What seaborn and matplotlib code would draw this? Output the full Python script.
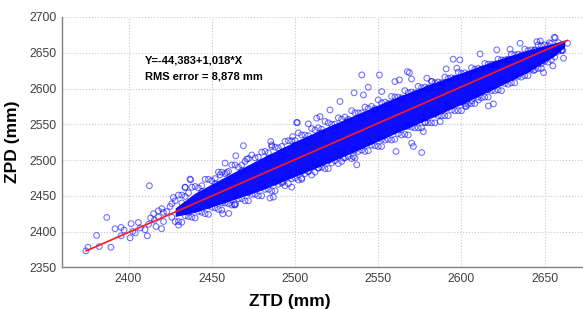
import matplotlib
matplotlib.use("Agg")
import matplotlib.pyplot as plt
import seaborn as sns
import numpy as np

# ---------------- data ----------------
# regression coefficients shown in the chart
intercept = -44.383
slope = 1.018
rms_error = 8.878

# envelope of the saturated (solid blue) core of the point cloud
core_ztd = [2428, 2440, 2460, 2480, 2500, 2520, 2540, 2560, 2580, 2600, 2620, 2640, 2655, 2662]
core_hi  = [2433, 2454, 2479, 2503, 2526, 2547, 2567, 2587, 2605, 2622, 2639, 2654, 2663, 2668]
core_lo  = [2421, 2427, 2442, 2458, 2477, 2496, 2516, 2537, 2557, 2578, 2600, 2623, 2644, 2658]

# upper edge of the cloud
up_ztd = [2426, 2430, 2434, 2438, 2442, 2446, 2450, 2454, 2458, 2462, 2466, 2470, 2474, 2478,
          2482, 2486, 2490, 2494, 2498, 2502, 2506, 2510, 2514, 2518, 2522, 2526, 2530, 2534,
          2538, 2542, 2546, 2550, 2554, 2558, 2562, 2566, 2570, 2574, 2578, 2582, 2586, 2590,
          2594, 2598, 2602, 2606, 2610, 2614, 2618, 2622, 2626, 2630, 2634, 2638, 2642, 2646,
          2650, 2654]
up_zpd = [2439, 2451, 2449, 2462, 2461, 2473, 2471, 2483, 2481, 2493, 2490, 2498, 2507, 2504,
          2512, 2521, 2517, 2526, 2527, 2538, 2535, 2544, 2545, 2554, 2550, 2559, 2560, 2569,
          2566, 2574, 2575, 2584, 2581, 2589, 2588, 2597, 2595, 2603, 2602, 2610, 2609, 2616,
          2615, 2623, 2622, 2629, 2628, 2635, 2634, 2641, 2640, 2648, 2648, 2655, 2654, 2661,
          2661, 2663]

# second row near the upper edge
up2_ztd = [2428, 2432, 2436, 2440, 2444, 2448, 2452, 2456, 2460, 2464, 2468, 2472, 2476, 2480,
           2484, 2488, 2492, 2496, 2500, 2504, 2508, 2512, 2516, 2520, 2524, 2528, 2532, 2536,
           2540, 2544, 2548, 2552, 2556, 2560, 2564, 2568, 2572, 2576, 2580, 2584, 2588, 2592,
           2596, 2600, 2604, 2608, 2612, 2616, 2620, 2624, 2628, 2632, 2636, 2640, 2644, 2648,
           2652]
up2_zpd = [2443, 2451, 2454, 2463, 2464, 2473, 2474, 2483, 2484, 2493, 2493, 2502, 2503, 2511,
           2510, 2518, 2519, 2527, 2527, 2535, 2534, 2542, 2543, 2552, 2550, 2557, 2557, 2566,
           2566, 2572, 2572, 2580, 2579, 2588, 2587, 2594, 2594, 2601, 2601, 2608, 2608, 2614,
           2614, 2621, 2620, 2627, 2627, 2634, 2634, 2640, 2640, 2647, 2647, 2653, 2653, 2660,
           2660]

# lower edge of the cloud
lo_ztd = [2428, 2432, 2436, 2440, 2444, 2448, 2452, 2456, 2460, 2464, 2468, 2472, 2476, 2480,
          2484, 2488, 2492, 2496, 2500, 2504, 2508, 2512, 2516, 2520, 2524, 2528, 2532, 2536,
          2540, 2544, 2548, 2552, 2556, 2560, 2564, 2568, 2572, 2576, 2580, 2584, 2588, 2592,
          2596, 2600, 2604, 2608, 2612, 2616, 2620, 2624, 2628, 2632, 2636, 2640, 2644, 2648,
          2652, 2656, 2660]
lo_zpd = [2414, 2413, 2421, 2419, 2427, 2424, 2433, 2430, 2439, 2437, 2446, 2443, 2452, 2450,
          2459, 2457, 2468, 2467, 2475, 2473, 2484, 2483, 2490, 2488, 2499, 2498, 2505, 2503,
          2514, 2513, 2520, 2519, 2529, 2529, 2535, 2535, 2545, 2545, 2552, 2552, 2562, 2562,
          2569, 2569, 2578, 2579, 2587, 2588, 2597, 2597, 2606, 2608, 2616, 2618, 2626, 2628,
          2637, 2644, 2653]

# second row near the lower edge
lo2_ztd = [2430, 2434, 2438, 2442, 2446, 2450, 2454, 2458, 2462, 2466, 2470, 2474, 2478, 2482,
           2486, 2490, 2494, 2498, 2502, 2506, 2510, 2514, 2518, 2522, 2526, 2530, 2534, 2538,
           2542, 2546, 2550, 2554, 2558, 2562, 2566, 2570, 2574, 2578, 2582, 2586, 2590, 2594,
           2598, 2602, 2606, 2610, 2614, 2618, 2622, 2626, 2630, 2634, 2638, 2642, 2646, 2650,
           2654, 2658]
lo2_zpd = [2414, 2422, 2420, 2428, 2425, 2434, 2431, 2440, 2437, 2446, 2443, 2452, 2450, 2459,
           2457, 2466, 2464, 2474, 2472, 2481, 2479, 2489, 2488, 2496, 2495, 2503, 2502, 2512,
           2512, 2521, 2519, 2528, 2528, 2537, 2536, 2546, 2545, 2553, 2552, 2562, 2562, 2570,
           2569, 2579, 2579, 2588, 2588, 2597, 2598, 2607, 2608, 2617, 2618, 2627, 2628, 2638,
           2640, 2652]

# points inside the band
in_ztd = [2432, 2444, 2452, 2460, 2468, 2476, 2484, 2492, 2500, 2508, 2516, 2524, 2532, 2540,
          2548, 2556, 2564, 2572, 2580, 2588, 2596, 2604, 2612, 2620, 2628, 2636, 2644,
          2436, 2448, 2456, 2464, 2472, 2480, 2488, 2496, 2504, 2512, 2520, 2528, 2536, 2544,
          2552, 2560, 2568, 2576, 2584, 2592, 2600, 2608, 2616, 2624, 2632, 2640, 2648, 2656]
in_zpd = [2440, 2456, 2467, 2470, 2485, 2489, 2503, 2506, 2521, 2524, 2538, 2541, 2555, 2558,
          2570, 2573, 2585, 2589, 2600, 2603, 2614, 2617, 2627, 2632, 2641, 2645, 2654,
          2427, 2436, 2440, 2453, 2454, 2466, 2469, 2481, 2484, 2497, 2499, 2512, 2514, 2527,
          2529, 2543, 2547, 2560, 2564, 2577, 2581, 2594, 2598, 2612, 2617, 2630, 2635, 2650]

# isolated points away from the band
out_ztd = [2374.4, 2375.6, 2380.8, 2382.4, 2386.9, 2389.4, 2391.9, 2395.5, 2395.5, 2397.3,
           2400.9, 2401.5, 2402.5, 2405.9, 2409.9, 2411.3, 2412.5, 2413.3, 2415.5, 2416.5,
           2419.8, 2417.9, 2420.9, 2424.9, 2430.0, 2426.9, 2434.0, 2437.3, 2404.0, 2407.0,
           2412.0, 2418.0, 2421.0, 2423.0, 2426.0, 2415.0, 2420.0,
           2456.6, 2460.2, 2464.2, 2464.4, 2471.0, 2485.0, 2487.0, 2498.0, 2455.0, 2459.0,
           2469.0, 2485.4, 2486.0, 2501.0, 2498.6, 2458.0, 2436.9, 2433.9, 2463.5,
           2540.1, 2550.7, 2544.0, 2535.5, 2527.0, 2521.0, 2513.0, 2515.0, 2501.4, 2508.0,
           2560.0, 2562.7, 2567.5, 2568.7, 2570.0, 2595.0, 2599.0, 2611.2, 2621.2, 2629.2,
           2635.2, 2645.3, 2655.7, 2652.8, 2658.3, 2663.7, 2660.9, 2661.3, 2654.9, 2649.3,
           2643.2, 2619.2, 2616.2, 2602.4, 2610.2, 2578.2, 2577.1, 2571.1, 2560.7, 2576.1,
           2587.2, 2566.1, 2492.6, 2504.0, 2508.0, 2514.0, 2537.1, 2535.0, 2529.0,
           2579.2, 2582.2, 2597.2, 2590.8, 2541.1, 2552.1, 2570.1, 2602.8, 2606.2,
           2656.3, 2647.3, 2660.3]
out_zpd = [2373.0, 2378.0, 2394.5, 2379.0, 2419.7, 2378.0, 2403.9, 2405.7, 2394.0, 2402.0,
           2391.0, 2411.0, 2400.0, 2412.7, 2402.5, 2394.0, 2464.0, 2419.0, 2416.0, 2407.0,
           2404.0, 2429.0, 2426.7, 2435.0, 2409.0, 2447.6, 2461.6, 2472.3, 2398.0, 2405.0,
           2410.0, 2420.0, 2414.0, 2428.0, 2420.0, 2425.0, 2432.0,
           2424.9, 2425.3, 2438.8, 2505.9, 2501.3, 2446.8, 2448.2, 2462.1, 2479.3, 2482.5,
           2520.0, 2525.9, 2518.9, 2552.4, 2532.8, 2495.7, 2473.3, 2462.0, 2437.5,
           2619.0, 2619.0, 2601.8, 2594.0, 2581.8, 2570.0, 2558.5, 2560.8, 2552.4, 2550.6,
           2609.7, 2612.0, 2623.6, 2622.2, 2613.4, 2641.0, 2640.0, 2648.3, 2654.0, 2654.9,
           2663.3, 2665.5, 2671.6, 2664.0, 2664.0, 2663.3, 2653.0, 2642.3, 2631.6, 2622.2,
           2625.0, 2578.5, 2575.7, 2575.7, 2584.0, 2552.4, 2539.8, 2518.9, 2511.9, 2510.5,
           2553.8, 2546.8, 2469.0, 2474.6, 2484.0, 2488.7, 2493.3, 2505.0, 2502.7,
           2614.4, 2609.6, 2628.4, 2627.4, 2591.0, 2595.7, 2523.6, 2574.7, 2582.7,
           2671.0, 2666.5, 2654.0]

x_ticks = [2400, 2450, 2500, 2550, 2600, 2650]
y_ticks = [2350, 2400, 2450, 2500, 2550, 2600, 2650, 2700]

# ---------------- plot ----------------
sns.set_style("white")
plt.rcParams['font.family'] = ['Liberation Sans', 'DejaVu Sans']

fig = plt.figure(figsize=(5.83, 3.09), dpi=100)
ax = fig.add_axes([0.1063, 0.135, 0.8937, 0.810])

ax.fill_between(core_ztd, core_lo, core_hi, color='#0000ff', linewidth=0, alpha=0.95, zorder=2)

all_x = up_ztd + up2_ztd + lo_ztd + lo2_ztd + in_ztd + out_ztd
all_y = up_zpd + up2_zpd + lo_zpd + lo2_zpd + in_zpd + out_zpd
sns.scatterplot(x=all_x, y=all_y, marker='o', s=17, facecolors='none',
                edgecolors='#0000ff', linewidth=0.8, alpha=0.55, ax=ax, zorder=3)

x_line = np.array([min(all_x), max(all_x)])
sns.lineplot(x=x_line, y=intercept + slope * x_line, color='#ff1a1a', linewidth=1.2,
             ax=ax, zorder=4)

ax.set_xlim(2360, 2673)
ax.set_ylim(2350, 2700)
ax.set_xticks(x_ticks)
ax.set_yticks(y_ticks)
ax.tick_params(axis='both', labelsize=8.8, labelcolor='#404040', direction='in',
               length=3, color='#808080', pad=4)
ax.grid(True, linestyle=':', color='#c8c8c8', linewidth=0.8)
ax.set_axisbelow(True)
for side in ['top', 'right']:
    ax.spines[side].set_visible(False)
for side in ['left', 'bottom']:
    ax.spines[side].set_color('#808080')
    ax.spines[side].set_linewidth(1.0)

ax.set_xlabel('ZTD (mm)', fontsize=12.6, fontweight='bold', color='black')
ax.set_ylabel('ZPD (mm)', fontsize=12.6, fontweight='bold', color='black')
ax.xaxis.set_label_coords(0.4376, -0.107)
ax.yaxis.set_label_coords(-0.0806, 0.5)

ax.text(2409.9, 2639, 'Y=-44,383+1,018*X', fontsize=8, fontweight='bold',
        va='center', ha='left', color='black')
ax.text(2409.9, 2616.6, 'RMS error = 8,878 mm', fontsize=8, fontweight='bold',
        va='center', ha='left', color='black')

fig.savefig('out.png', dpi=100)
